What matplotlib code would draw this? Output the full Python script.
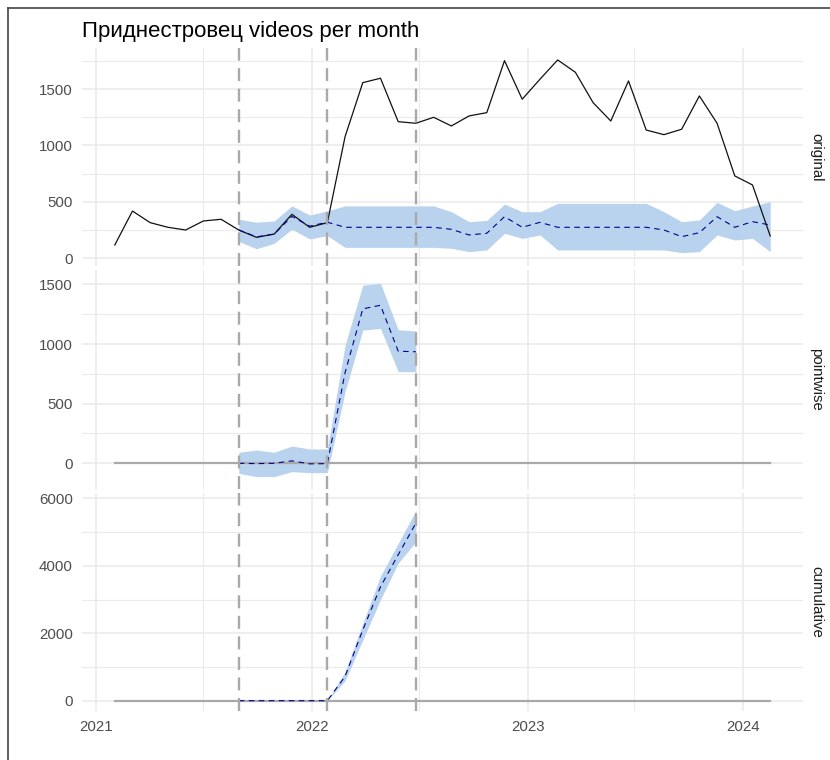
import matplotlib
matplotlib.use("Agg")
import matplotlib.pyplot as plt
import matplotlib.dates as mdates
from matplotlib.lines import Line2D
import numpy as np
import pandas as pd

plt.rcParams["font.family"] = ["Liberation Sans", "DejaVu Sans"]

# ---- data -------------------------------------------------------------
# one observation every 30 days
start_date = "2021-02-01"
n_obs = 38
dates = pd.date_range(start_date, periods=n_obs, freq="30D")

observed = [118, 419, 316, 275, 251, 331, 346, 251, 186, 215, 390, 275, 316,
            1078, 1557, 1596, 1211, 1197, 1250, 1173, 1262, 1291, 1752, 1410,
            1587, 1758, 1649, 1380, 1217, 1572, 1137, 1096, 1144, 1439, 1197,
            730, 650, 198]

# model window starts at the pre-period start (index 7)
model_start = 7
predicted = [251, 190, 215, 372, 285, 320,
             275, 275, 275, 275, 275, 275,
             257, 207, 222, 369, 275, 319,
             275, 275, 275, 275, 275, 275,
             251, 192, 227, 369, 275, 325, 295]
pred_upper = [346, 320, 331, 465, 384, 420,
              465, 465, 465, 465, 465, 465,
              413, 325, 336, 481, 413, 413,
              487, 487, 487, 487, 487, 487,
              413, 325, 340, 496, 422, 464, 502]
pred_lower = [150, 85, 133, 258, 172, 200,
              97, 97, 97, 97, 97, 97,
              89, 59, 74, 222, 177, 207,
              74, 74, 74, 74, 74, 74,
              74, 50, 59, 207, 162, 177, 59]

# effect estimates, pre-period start through post-period end
pointwise = [0, -3, 0, 20, -5, -3, 760, 1295, 1325, 940, 935]
pointwise_upper = [92, 111, 92, 145, 120, 120, 990, 1494, 1509, 1120, 1109]
pointwise_lower = [-84, -112, -112, -70, -79, -79, 600, 1117, 1131, 768, 768]

cumulative = [0, 0, 0, 0, 0, 0, 720, 2100, 3380, 4330, 5270]
cumulative_upper = [0, 0, 0, 0, 0, 0, 860, 2296, 3700, 4670, 5640]
cumulative_lower = [0, 0, 0, 0, 0, 0, 590, 1800, 3000, 4080, 4720]

# pre-period start, post-period start, post-period end
event_idx = [7, 12, 17]

panel_names = ["original", "pointwise", "cumulative"]
title = "Приднестровец videos per month"

# ---- styling ----------------------------------------------------------
W, H = 830, 760
RIBBON = "#B9D3EE"
GRID = "#EBEBEB"
VLINE = "#A9A9A9"
TICK_COLOR = "#4D4D4D"

fig = plt.figure(figsize=(W / 100, H / 100), dpi=100)

left_px, right_px = 82, 803
top_px, bottom_px = 48, 711
gap_px = 4
panel_h = (bottom_px - top_px - 2 * gap_px) / 3

axes = []
for i in range(3):
    y0 = top_px + i * (panel_h + gap_px)
    ax = fig.add_axes([left_px / W, 1 - (y0 + panel_h) / H,
                       (right_px - left_px) / W, panel_h / H])
    axes.append(ax)

ylims = [(-71, 1864), (-213, 1618), (-306, 6172)]
ymajor = [[0, 500, 1000, 1500], [0, 500, 1000, 1500], [0, 2000, 4000, 6000]]
yminor = [[250, 750, 1250, 1750], [250, 750, 1250], [1000, 3000, 5000]]

pad = pd.Timedelta(days=55.5)
xlim = (dates[0] - pad, dates[-1] + pad)
model_dates = dates[model_start:]
effect_dates = dates[model_start:model_start + len(pointwise)]

for i, ax in enumerate(axes):
    ax.set_facecolor("white")
    for s in ax.spines.values():
        s.set_visible(False)
    ax.set_xlim(xlim)
    ax.set_ylim(ylims[i])
    ax.set_yticks(ymajor[i])
    ax.set_yticks(yminor[i], minor=True)
    ax.xaxis.set_major_locator(mdates.YearLocator())
    ax.xaxis.set_minor_locator(mdates.MonthLocator(bymonth=7))
    ax.xaxis.set_major_formatter(mdates.DateFormatter("%Y"))
    ax.grid(which="major", color=GRID, lw=1.2, zorder=0)
    ax.grid(which="minor", color=GRID, lw=0.8, zorder=0)
    ax.set_axisbelow(True)
    ax.tick_params(which="both", length=0, labelsize=10.8,
                   labelcolor=TICK_COLOR, pad=6.5)
    if i < 2:
        ax.tick_params(axis="x", labelbottom=False)
    ax.annotate(panel_names[i], xy=(1, 0.5), xycoords="axes fraction",
                xytext=(13, 0), textcoords="offset pixels",
                rotation=270, ha="center", va="center",
                fontsize=10.8, color="#1A1A1A")

# original series with model prediction
ax = axes[0]
ax.fill_between(model_dates, pred_lower, pred_upper, color=RIBBON, lw=0, zorder=1)
ax.plot(dates, observed, color="#111111", lw=0.9, zorder=3)
ax.plot(model_dates, predicted, color="darkblue", lw=0.8,
        ls=(0, (5, 4)), zorder=4)

# pointwise effect
ax = axes[1]
ax.fill_between(effect_dates, pointwise_lower, pointwise_upper,
                color=RIBBON, lw=0, zorder=1)
ax.plot(dates, np.zeros(n_obs), color=VLINE, lw=1.6, zorder=2)
ax.plot(effect_dates, pointwise, color="darkblue", lw=0.8,
        ls=(0, (5, 4)), zorder=4)

# cumulative effect
ax = axes[2]
ax.fill_between(effect_dates, cumulative_lower, cumulative_upper,
                color=RIBBON, lw=0, zorder=1)
ax.plot(dates, np.zeros(n_obs), color=VLINE, lw=1.6, zorder=2)
ax.plot(effect_dates, cumulative, color="darkblue", lw=0.8,
        ls=(0, (5, 4)), zorder=4)

for ax in axes:
    for k in event_idx:
        ax.axvline(dates[k], color=VLINE, lw=1.7, ls=(0, (5.5, 3.2)), zorder=5)

fig.text(left_px / W, 1 - 37 / H, title, fontsize=16, color="black",
         ha="left", va="baseline")

# outer frame on the left and top edges
fig.add_artist(Line2D([8 / W, 8 / W], [0, 1 - 8 / H], transform=fig.transFigure,
                      color="#444444", lw=1.2))
fig.add_artist(Line2D([8 / W, 1], [1 - 8 / H, 1 - 8 / H], transform=fig.transFigure,
                      color="#444444", lw=1.2))

fig.savefig("out.png", dpi=100, facecolor="white")
